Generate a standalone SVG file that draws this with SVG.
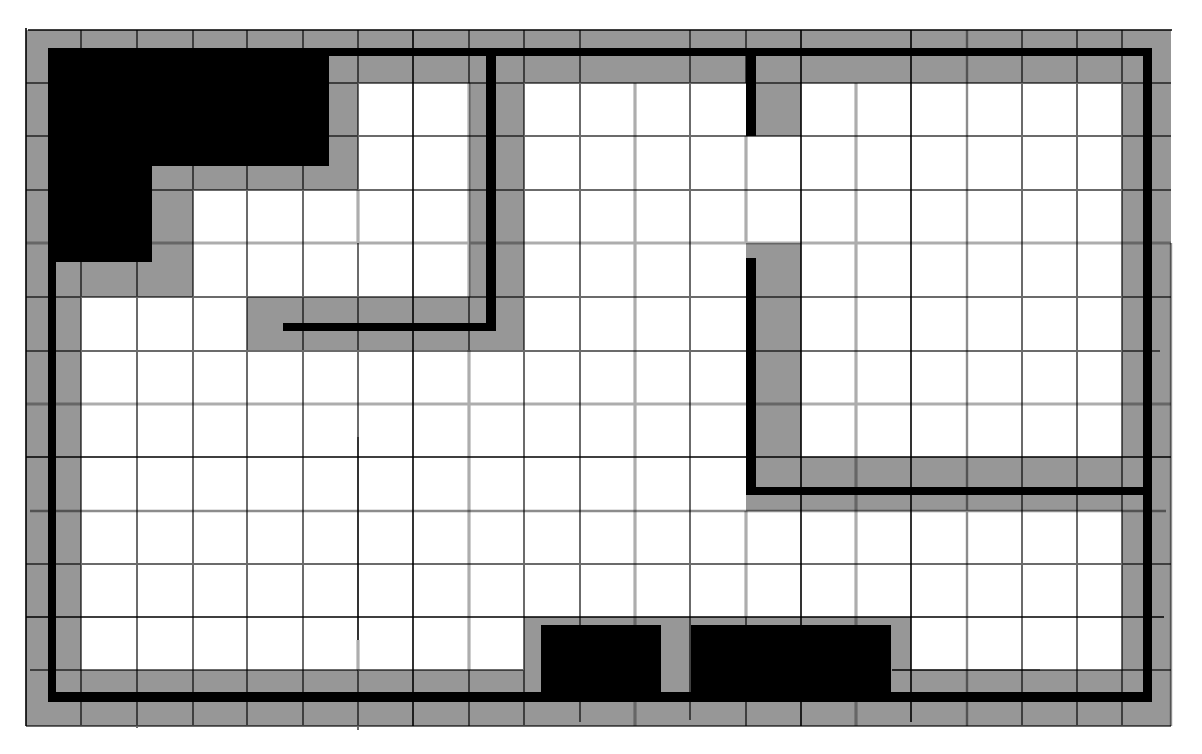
<svg xmlns="http://www.w3.org/2000/svg" width="1202" height="754" viewBox="0 0 1202 754">
<style>
.k{stroke:#000;stroke-width:1.6;fill:none}
.d{stroke:#000;stroke-opacity:.58;stroke-width:2;fill:none}
.m{stroke:#000;stroke-opacity:.45;stroke-width:2.4;fill:none}
.l{stroke:#000;stroke-opacity:.32;stroke-width:3.2;fill:none}
.f{stroke:#000;stroke-opacity:.18;stroke-width:1.5;fill:none}
.w{fill:#000;stroke:none}
</style>
<rect width="1202" height="754" fill="#fff"/>
<g id="free-space">
<rect x="26" y="30" width="1145" height="696" fill="#979797"/>
<path fill="#fff" d="M81 297H193V190H358V83H469V297H247V350H524V83H746V136H801V243H746V511H1122V670H911V617H524V670H81Z"/>
<rect x="801" y="83" width="321" height="374" fill="#fff"/>
</g>
<g id="grid">
<path class="k" d="M26 28V726M413 30V726M801 30V726M911 30V722M28 30H1172M26 457H1171M26 617H1164M358 437V640M892 670H1040"/>
<path class="d" d="M81 30V726M137 30V728M193 30V726M247 30V726M303 30V726M524 30V726M580 30V722M690 30V720M1122 30V726M1022 30V726M1077 30V726M26 83H1171M26 136H1171M26 190H1171M26 297H1171M26 351H1160M26 564H1171M358 670H524M358 30V190M358 243V437M358 670V730M26 726H1171"/>
<path class="m" d="M967 30V726M30 511H1166M1171 243V726"/>
<path class="l" d="M469 83V297M469 350V670M635 83V726M746 136V243M746 511V617M856 83V726M26 243H1171M26 404H1171M358 190V243M358 640V670"/>
<path class="d" d="M469 30V83M469 297V350M469 670V726M746 30V83M746 617V726M30 670H358M1040 670H1171"/>
</g>
<g id="walls">
<path class="w" d="M48 48H1152V702H48ZM56 56V692H541V625H661V692H691V625H891V692H1143V495H756V487H1143V56H756V136H746V56H496V331H283V323H486V56H329V166H152V262H56Z"/>
<path class="w" d="M746 258H756V495H746Z"/>
</g>
</svg>
